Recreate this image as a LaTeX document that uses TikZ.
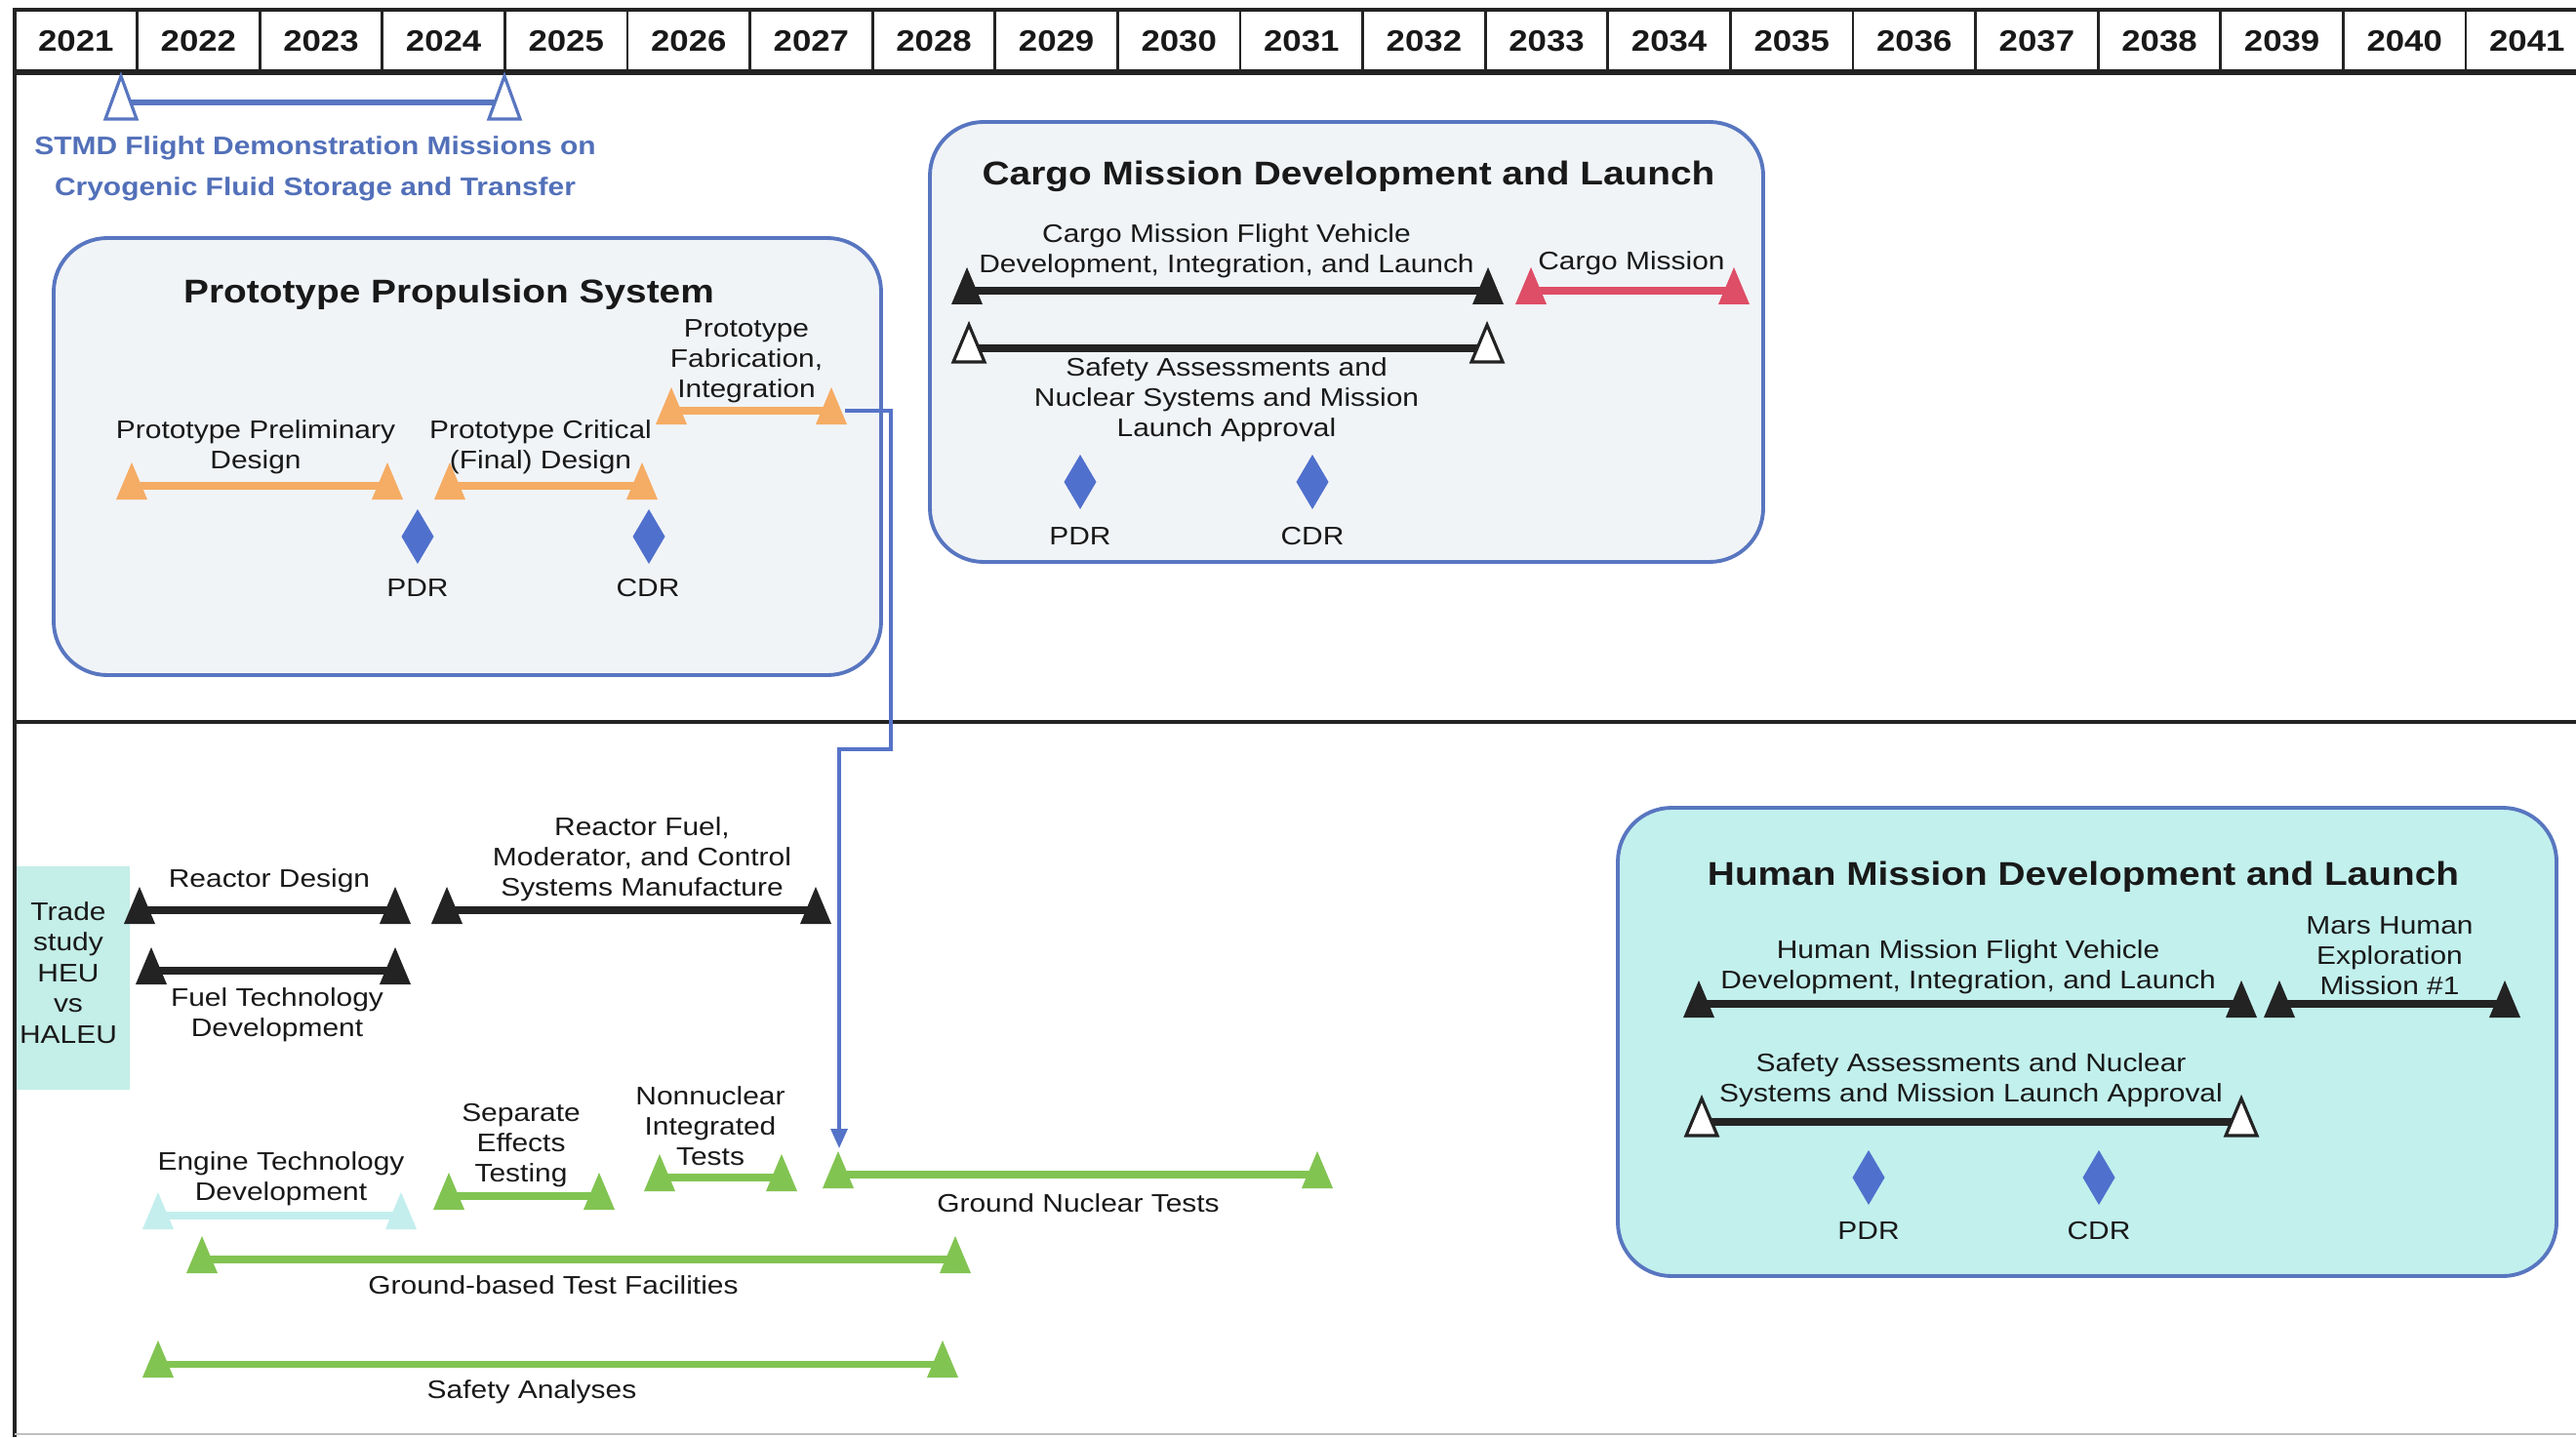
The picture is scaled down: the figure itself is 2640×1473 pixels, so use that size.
\documentclass[tikz,border=0pt]{standalone}
\usepackage{fontspec}
\setmainfont{Liberation Sans}[FakeStretch=1.15]
\usetikzlibrary{arrows.meta}
\definecolor{boxblue}{RGB}{88,118,192}
\definecolor{connblue}{RGB}{85,115,200}
\definecolor{diamblue}{RGB}{80,112,205}
\definecolor{stmdblue}{RGB}{82,112,185}
\definecolor{orangebar}{RGB}{245,172,100}
\definecolor{greenbar}{RGB}{130,196,82}
\definecolor{redbar}{RGB}{222,78,102}
\definecolor{palecyan}{RGB}{196,238,238}
\definecolor{boxfill}{RGB}{241,244,247}
\definecolor{humanfill}{RGB}{194,240,237}
\definecolor{tradefill}{RGB}{196,238,232}
\definecolor{txt}{RGB}{25,25,25}
\definecolor{barblack}{RGB}{35,35,35}
\newcommand{\lbfont}{\fontsize{7.4}{8.8}\selectfont}
\newcommand{\tradefont}{\fontsize{7.4}{9}\selectfont}
\newcommand{\ttlfont}{\fontsize{9.6}{11}\selectfont\bfseries}
\newcommand{\yrfont}{\fontsize{8.6}{10}\selectfont\bfseries}
\newcommand{\stmdfont}{\fontsize{7.4}{11.95}\selectfont\bfseries}
% triangle: x, line y, style
\newcommand{\ttri}[3]{\path[#3] (#1-16,#2+14) -- (#1,#2-24) -- (#1+16,#2+14) -- cycle;}
% bar: x1, x2, y, line colour, triangle style
\newcommand{\tbar}[5]{%
  \draw[barline,draw=#4] (#1,#3) -- (#2,#3);
  \ttri{#1}{#3}{#5}\ttri{#2}{#3}{#5}}
\newcommand{\diamd}[2]{\path[diam] (#1,#2-28) -- (#1+16.5,#2) -- (#1,#2+28) -- (#1-16.5,#2) -- cycle;}
\begin{document}
\begin{tikzpicture}[x=0.01cm,y=-0.01cm,
  lbl/.style={font=\lbfont, text=txt, align=center, inner sep=0pt},
  ttl/.style={font=\ttlfont, text=txt, inner sep=0pt},
  yearlbl/.style={font=\yrfont, text=txt, inner sep=0pt},
  barline/.style={line width=2pt},
  solidtri/.style={fill=#1},
  opentri/.style={draw=#1, fill=white, line width=0.9pt, line join=miter},
  phasebox/.style={draw=boxblue, line width=1.1pt, rounded corners=0.55cm},
  diam/.style={fill=diamblue},
  conn/.style={draw=connblue, line width=0.9pt, -{Triangle[length=0.2cm,width=0.17cm]}}
]
\useasboundingbox (0,0) rectangle (2640,1473);
\fill[white] (0,0) rectangle (2640,1473);

% ---------- header ----------
\foreach \i in {1,...,20} \draw[line width=0.8pt, draw=barblack] ({15+125.6*\i},10) -- ({15+125.6*\i},74);
\draw[line width=1.1pt, draw=barblack] (15,10) -- (2640,10);
\draw[line width=1.7pt, draw=barblack] (15,74) -- (2640,74);
\foreach \i in {0,...,20} {
  \pgfmathtruncatemacro\yr{2021+\i}
  \node[yearlbl] (y\yr) at ({15+125.6*\i+62.8},42) {\yr};
}

% ---------- frame ----------
\fill[tradefill] (15,888) rectangle (133,1117);
\draw[line width=1.4pt, draw=barblack] (15,8) -- (15,1473);
\draw[line width=1.4pt, draw=barblack] (15,740) -- (2640,740);
\draw[line width=0.6pt, draw=gray!50] (15,1470) -- (2640,1470);

% ---------- STMD ----------
\draw[line width=1.7pt, draw=boxblue] (124,105) -- (517,105);
\path[opentri=boxblue] (124-16,122) -- (124,78) -- (124+16,122) -- cycle;
\path[opentri=boxblue] (517-16,122) -- (517,78) -- (517+16,122) -- cycle;
\node[font=\stmdfont, text=stmdblue, align=center, inner sep=0pt] (stmd) at (323,173)
  {STMD Flight Demonstration Missions on\\Cryogenic Fluid Storage and Transfer};

% ---------- Prototype Propulsion System ----------
\path[phasebox, fill=boxfill] (55,244) rectangle (903,692);
\node[ttl] (ppsT) at (460,302) {Prototype Propulsion System};
\tbar{135}{397}{498}{orangebar}{solidtri=orangebar}
\tbar{461}{658}{498}{orangebar}{solidtri=orangebar}
\tbar{688}{852}{421}{orangebar}{solidtri=orangebar}
\node[lbl] (ppd) at (262,458) {Prototype Preliminary\\Design};
\node[lbl] (pcd) at (554,458) {Prototype Critical\\(Final) Design};
\node[lbl] (pfi) at (765,370) {Prototype\\Fabrication,\\Integration};
\diamd{428}{550}
\diamd{665}{550}
\node[lbl] (pdr1) at (428,603) {PDR};
\node[lbl] (cdr1) at (664,603) {CDR};

% ---------- Cargo Mission ----------
\path[phasebox, fill=boxfill] (953,125) rectangle (1807,576);
\node[ttl] (cargoT) at (1382,181) {Cargo Mission Development and Launch};
\tbar{991}{1525}{298}{barblack}{solidtri=barblack}
\tbar{1569}{1777}{298}{redbar}{solidtri=redbar}
\tbar{993}{1524}{357}{barblack}{opentri=barblack}
\node[lbl] (cmfv) at (1257,257) {Cargo Mission Flight Vehicle\\Development, Integration, and Launch};
\node[lbl] (cm) at (1672,270) {Cargo Mission};
\node[lbl] (csaf) at (1257,410) {Safety Assessments and\\Nuclear Systems and Mission\\Launch Approval};
\diamd{1107}{494}
\diamd{1345}{494}
\node[lbl] (pdr2) at (1107,550) {PDR};
\node[lbl] (cdr2) at (1345,550) {CDR};

% ---------- Human Mission ----------
\path[phasebox, fill=humanfill] (1658,828) rectangle (2620,1308);
\node[ttl] (humT) at (2135,899) {Human Mission Development and Launch};
\tbar{1741}{2297}{1029}{barblack}{solidtri=barblack}
\tbar{2336}{2567}{1029}{barblack}{solidtri=barblack}
\tbar{1744}{2297}{1150}{barblack}{opentri=barblack}
\node[lbl] (hmfv) at (2017,991) {Human Mission Flight Vehicle\\Development, Integration, and Launch};
\node[lbl] (mars) at (2449,980) {Mars Human\\Exploration\\Mission \#1};
\node[lbl] (hsaf) at (2020,1107) {Safety Assessments and Nuclear\\Systems and Mission Launch Approval};
\diamd{1915}{1207}
\diamd{2151}{1207}
\node[lbl] (pdr3) at (1915,1262) {PDR};
\node[lbl] (cdr3) at (2151,1262) {CDR};

% ---------- lower left ----------
\node[font=\tradefont, text=txt, align=center, inner sep=0pt] (trade) at (70,997) {Trade\\study\\HEU\\vs\\HALEU};
\tbar{143}{405}{933}{barblack}{solidtri=barblack}
\tbar{155}{405}{995}{barblack}{solidtri=barblack}
\tbar{458}{836}{933}{barblack}{solidtri=barblack}
\node[lbl] (rd) at (276,903) {Reactor Design};
\node[lbl] (ftd) at (284,1040) {Fuel Technology\\Development};
\node[lbl] (rfm) at (658,881) {Reactor Fuel,\\Moderator, and Control\\Systems Manufacture};

\tbar{162}{411}{1246}{palecyan}{solidtri=palecyan}
\tbar{460}{614}{1226}{greenbar}{solidtri=greenbar}
\tbar{676}{801}{1207}{greenbar}{solidtri=greenbar}
\tbar{859}{1350}{1204}{greenbar}{solidtri=greenbar}
\tbar{207}{979}{1291}{greenbar}{solidtri=greenbar}
\tbar{162}{966}{1398}{greenbar}{solidtri=greenbar}
\node[lbl] (etd) at (288,1208) {Engine Technology\\Development};
\node[lbl] (set) at (534,1174) {Separate\\Effects\\Testing};
\node[lbl] (nit) at (728,1154) {Nonnuclear\\Integrated\\Tests};
\node[lbl] (gnt) at (1105,1233) {Ground Nuclear Tests};
\node[lbl] (gbtf) at (567,1317) {Ground-based Test Facilities};
\node[lbl] (sa) at (545,1427) {Safety Analyses};

% ---------- connector ----------
\coordinate (pfiEnd) at (866,421);
\coordinate (jog) at (913,768);
\coordinate (gntTop) at (860,1177);
\draw[conn] (pfiEnd) -| (jog) -| (gntTop);
\end{tikzpicture}
\end{document}
